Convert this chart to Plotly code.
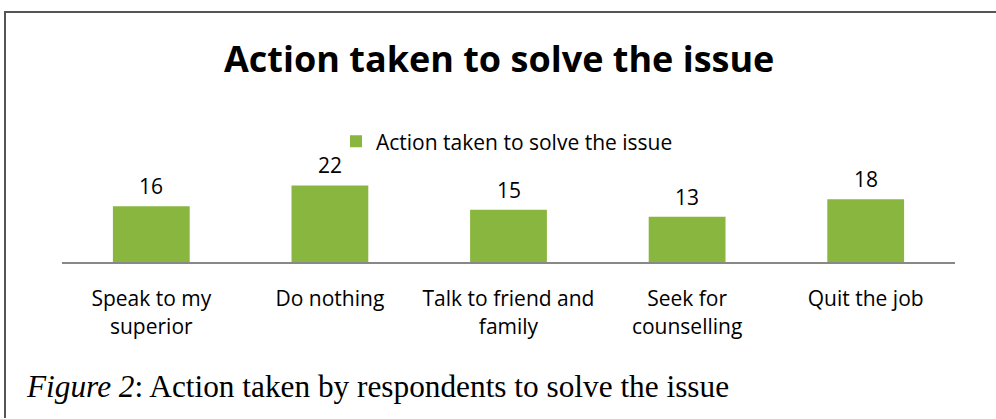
import plotly.graph_objects as go

categories = ["Speak to my superior", "Do nothing", "Talk to friend and family",
              "Seek for counselling", "Quit the job"]
tick_labels = ["Speak to my<br>superior", "Do nothing", "Talk to friend and<br>family",
               "Seek for<br>counselling", "Quit the job"]
values = [16, 22, 15, 13, 18]
series_name = "Action taken to solve the issue"
title_text = "Action taken to solve the issue"
caption_text = "<i>Figure 2</i>: Action taken by respondents to solve the issue"

W, H = 996, 419
L, R = 62, 955
T, B = 174.5, 262
pw, ph = R - L, B - T

def px_x(px):
    return (px - L) / pw

def px_y(py):
    return (B - py) / ph

font_family = "Open Sans, Lato, sans-serif"
FS = 21

fig = go.Figure()
fig.add_trace(go.Bar(
    x=categories, y=values, name=series_name,
    marker=dict(color="#89B63E", line=dict(width=0)),
    width=0.43,
    cliponaxis=False,
    showlegend=True,
))

for c, v in zip(categories, values):
    fig.add_annotation(x=c, y=v, xref="x", yref="y", text=str(v), showarrow=False,
                       yanchor="middle", yshift=20,
                       font=dict(size=FS, family=font_family, color="#000000"))

fig.update_layout(
    width=W, height=H,
    margin=dict(l=L, r=W - R, t=T, b=H - B, pad=0),
    paper_bgcolor="white", plot_bgcolor="white",
    font=dict(family=font_family, color="#000000"),
    showlegend=True,
    legend=dict(orientation="h", x=px_x(507), xanchor="center", y=px_y(141), yanchor="middle",
                font=dict(size=FS, family=font_family), itemwidth=30,
                bgcolor="rgba(0,0,0,0)"),
    xaxis=dict(tickmode="array", tickvals=categories, ticktext=tick_labels,
               showline=True, linecolor="#888888", linewidth=2,
               showgrid=False, zeroline=False, ticks="",
               tickfont=dict(size=FS, family=font_family),
               ticklabelstandoff=17, fixedrange=True),
    yaxis=dict(range=[0, 25], visible=False, showgrid=False, fixedrange=True),
    bargap=0.57,
)

fig.add_annotation(text="<b>" + title_text + "</b>", xref="paper", yref="paper",
                   x=px_x(499), y=px_y(57), xanchor="center", yanchor="middle",
                   showarrow=False, font=dict(size=36, family=font_family, color="#000000"))
fig.add_annotation(text=caption_text, xref="paper", yref="paper",
                   x=px_x(24), y=px_y(387), xanchor="left", yanchor="middle",
                   showarrow=False, font=dict(size=31.3, family="Liberation Serif, Times New Roman, serif",
                                               color="#000000"))

# outer frame (top and left edges)
fig.add_shape(type="line", xref="paper", yref="paper",
              x0=px_x(4), x1=px_x(996), y0=px_y(10.5), y1=px_y(10.5),
              line=dict(color="#555555", width=2))
fig.add_shape(type="line", xref="paper", yref="paper",
              x0=px_x(5), x1=px_x(5), y0=px_y(10), y1=px_y(419),
              line=dict(color="#555555", width=2))

fig.write_html("out.html")
